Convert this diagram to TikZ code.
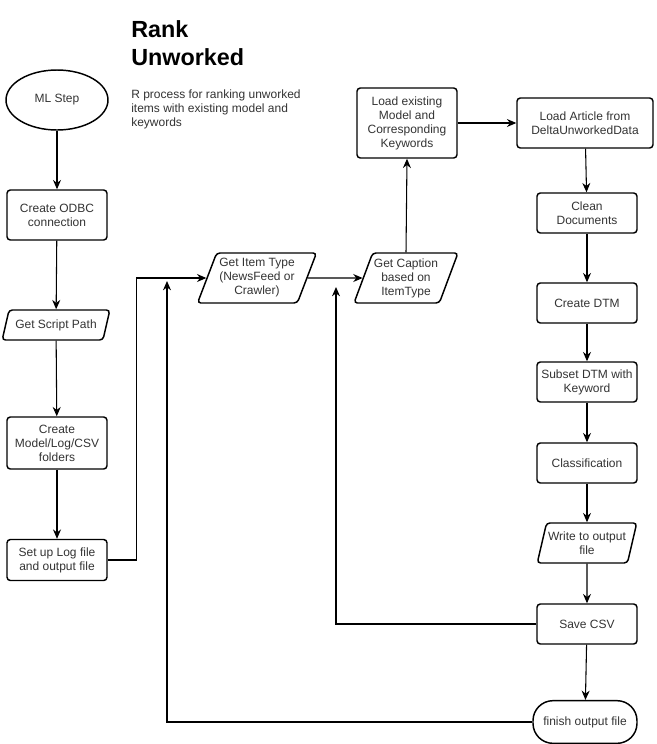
\documentclass[tikz,border=0pt]{standalone}
\usepackage{fontspec}
\setmainfont{Liberation Sans}
\usepackage{tikz}
\usetikzlibrary{arrows.meta, positioning, shapes.geometric}

\begin{document}
\begin{tikzpicture}[x=0.75pt,y=-0.75pt,
		>={Stealth[length=7pt,width=6pt]},
		txt/.style={font=\fontsize{9}{10.5}\selectfont, text=black!80, align=center, inner sep=1pt},
		procbox/.style={txt, draw, line width=1.1pt, rounded corners=2.5pt, minimum width=75pt, minimum height=30pt},
		iobox/.style={txt, draw, line width=1.1pt, rounded corners=2.5pt, trapezium, trapezium left angle=66, trapezium right angle=114, trapezium stretches=true, minimum width=75pt, minimum height=30pt},
		termbox/.style={txt, draw, line width=1.1pt, ellipse, minimum width=76.5pt, minimum height=45pt},
		flow/.style={->, line width=0.8pt}]
				% Fix the page size
				\useasboundingbox (0,0) rectangle (657,744);
				
				% Title and description
				\node[anchor=north west, align=left, inner sep=0, font=\fontsize{17.5}{21}\selectfont\bfseries] (title) at (131,20) {Rank\\Unworked};
				\node[anchor=north west, align=left, inner sep=0, font=\fontsize{9}{10.5}\selectfont, text=black!80] (descr) at (131,90) {R process for ranking unworked\\items with existing model and\\keywords};
				
				% Left column
				\node[termbox] (mlstep) at (57,100) {ML Step};
				\node[procbox, minimum height=37.5pt] (odbc) at (57,215) {Create ODBC\\connection};
				\node[iobox, minimum width=81pt, minimum height=22.5pt] (scriptpath) at (56,325) {Get Script Path};
				\node[procbox, minimum height=39pt] (folders) at (57,443) {Create\\Model/Log/CSV\\folders};
				\node[procbox, minimum height=30.75pt] (setup) at (57,560) {Set up Log file\\and output file};
				
				% Middle row
				\node[iobox, minimum width=90pt, minimum height=37.5pt] (itemtype) at (257,278) {Get Item Type\\(NewsFeed or\\Crawler)};
				\node[iobox, minimum width=76.5pt, minimum height=37.5pt] (caption) at (406,278) {Get Caption\\based on\\ItemType};
				\node[procbox, minimum height=52.5pt] (loadmodel) at (407,123) {Load existing\\Model and\\Corresponding\\Keywords};
				
				% Right column
				\node[procbox, minimum width=102pt, minimum height=37.5pt] (loadarticle) at (585,123) {Load Article from\\DeltaUnworkedData};
				\node[procbox] (clean) at (587,213) {Clean\\Documents};
				\node[procbox] (dtm) at (587,303) {Create DTM};
				\node[procbox] (subset) at (587,382) {Subset DTM with\\Keyword};
				\node[procbox] (classif) at (587,463) {Classification};
				\node[iobox, trapezium left angle=70, trapezium right angle=110] (writeout) at (587,543) {Write to output\\file};
				\node[procbox] (savecsv) at (587,624) {Save CSV};
				\node[procbox, minimum width=78pt, minimum height=32pt, rounded corners=15pt] (finish) at (585,722) {finish output file};
				
				% Loop end points
				\coordinate (loopA) at (167,281);
				\coordinate (loopB) at (336,287);
				
				% Draw the connectors
				\draw[flow] (mlstep) -- (odbc);
				\draw[flow] (odbc) -- (scriptpath);
				\draw[flow] (scriptpath) -- (folders);
				\draw[flow] (folders) -- (setup);
				\draw[flow] (setup.east) -- ++(29,0) |- (itemtype.west);
				\draw[flow] (itemtype.east) -- (caption.west);
				\draw[flow] (caption.north) -- (loadmodel.south);
				\draw[flow] (loadmodel.east) -- (loadarticle.west);
				\draw[flow] (loadarticle) -- (clean);
				\draw[flow] (clean) -- (dtm);
				\draw[flow] (dtm) -- (subset);
				\draw[flow] (subset) -- (classif);
				\draw[flow] (classif) -- (writeout);
				\draw[flow] (writeout) -- (savecsv);
				\draw[flow] (savecsv) -- (finish);
				\draw[flow] (savecsv.west) -| (loopB);
				\draw[flow] (finish.west) -| (loopA);
			\end{tikzpicture}
\end{document}
